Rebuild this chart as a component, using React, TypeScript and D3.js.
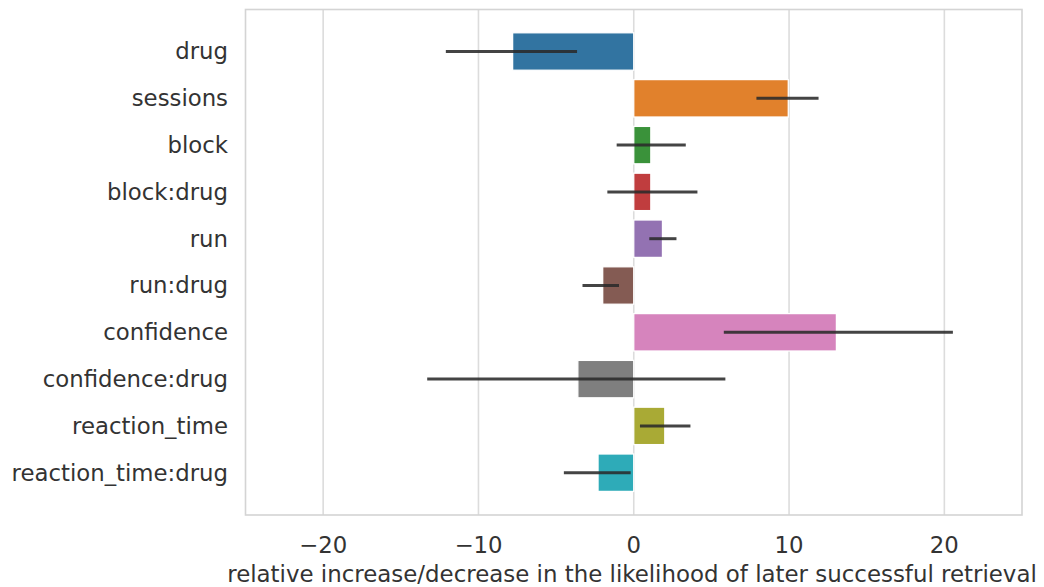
import React, { useEffect, useRef } from 'react';
import * as d3 from 'd3';

const terms = ['drug', 'sessions', 'block', 'block:drug', 'run', 'run:drug', 'confidence', 'confidence:drug', 'reaction_time', 'reaction_time:drug'];
const estimates = [-7.8, 9.95, 1.1, 1.1, 1.85, -2.0, 13.05, -3.6, 2.0, -2.3];
const ciLow = [-12.1, 7.9, -1.1, -1.7, 1.0, -3.3, 5.8, -13.3, 0.4, -4.5];
const ciHigh = [-3.65, 11.9, 3.35, 4.1, 2.75, -0.95, 20.55, 5.9, 3.65, -0.2];
const barColors = ['#3274a1', '#e1812c', '#3a923a', '#c03d3e', '#9372b2', '#845b53', '#d684bd', '#7f7f7f', '#a9aa35', '#2eabb8'];
const xTicks = [-20, -10, 0, 10, 20];
const xLabel = 'relative increase/decrease in the likelihood of later successful retrieval';

export default function App() {
  const ref = useRef<SVGSVGElement>(null);

  useEffect(() => {
    const w = 1044;
    const h = 587;
    const left = 245.5;
    const right = 1022;
    const top = 9.5;
    const bottom = 515;
    const font = 'DejaVu Sans, sans-serif';
    const fs = 22.8;

    const root = d3.select(ref.current);
    root.selectAll('*').remove();
    // page keeps its 8px body margin, so shift the drawing back
    root.attr('width', w - 8).attr('height', h - 8);
    const svg = root.append('g').attr('transform', 'translate(-8, -8)');

    const x = d3.scaleLinear().domain([-25, 25]).range([left, right]);
    const y = d3.scaleBand<string>()
      .domain(terms)
      .range([28.1, 496.1])
      .paddingInner(0.2)
      .paddingOuter(0.1);

    // grid
    svg.append('g')
      .selectAll('line')
      .data(xTicks)
      .join('line')
      .attr('x1', d => x(d))
      .attr('x2', d => x(d))
      .attr('y1', top)
      .attr('y2', bottom)
      .attr('stroke', '#dcdcdc')
      .attr('stroke-width', 1.6);

    // bars
    svg.append('g')
      .selectAll('rect')
      .data(terms)
      .join('rect')
      .attr('x', (d, i) => Math.min(x(0), x(estimates[i])))
      .attr('width', (d, i) => Math.abs(x(estimates[i]) - x(0)))
      .attr('y', d => y(d) as number)
      .attr('height', y.bandwidth())
      .attr('fill', (d, i) => barColors[i])
      .attr('stroke', '#ffffff')
      .attr('stroke-width', 1.3);

    // error bars
    svg.append('g')
      .selectAll('line')
      .data(terms)
      .join('line')
      .attr('x1', (d, i) => x(ciLow[i]))
      .attr('x2', (d, i) => x(ciHigh[i]))
      .attr('y1', d => (y(d) as number) + y.bandwidth() / 2)
      .attr('y2', d => (y(d) as number) + y.bandwidth() / 2)
      .attr('stroke', '#2a2a2a')
      .attr('stroke-opacity', 0.88)
      .attr('stroke-width', 3);

    // frame
    svg.append('rect')
      .attr('x', left)
      .attr('y', top)
      .attr('width', right - left)
      .attr('height', bottom - top)
      .attr('fill', 'none')
      .attr('stroke', '#d4d4d4')
      .attr('stroke-width', 1.6);

    // y tick labels
    svg.append('g')
      .selectAll('text')
      .data(terms)
      .join('text')
      .attr('x', 228)
      .attr('y', d => (y(d) as number) + y.bandwidth() / 2)
      .attr('text-anchor', 'end')
      .attr('dy', '0.35em')
      .attr('font-family', font)
      .attr('font-size', fs)
      .attr('fill', '#333333')
      .text(d => d);

    // x tick labels
    svg.append('g')
      .selectAll('text')
      .data(xTicks)
      .join('text')
      .attr('x', d => x(d))
      .attr('y', 553)
      .attr('text-anchor', 'middle')
      .attr('font-family', font)
      .attr('font-size', fs)
      .attr('fill', '#333333')
      .text(d => d3.format('')(d).replace('-', '\u2212'));

    // x axis label
    svg.append('text')
      .attr('x', 632)
      .attr('y', 582)
      .attr('text-anchor', 'middle')
      .attr('font-family', font)
      .attr('font-size', 22.9)
      .attr('fill', '#333333')
      .text(xLabel);
  }, []);

  return <svg ref={ref} style={{ display: 'block' }} />;
}
